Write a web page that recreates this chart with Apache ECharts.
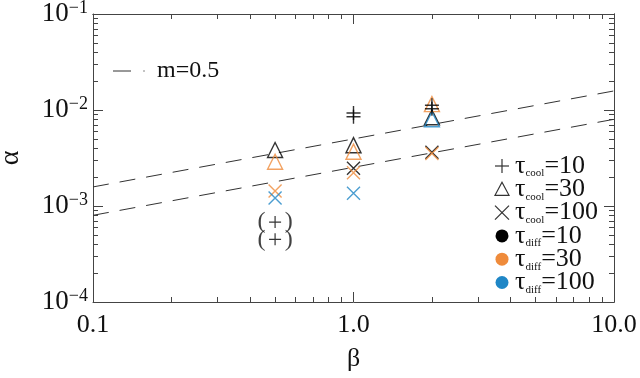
<!DOCTYPE html>
<html>
<head>
<meta charset="utf-8">
<script src="https://cdn.jsdelivr.net/npm/echarts@6/dist/echarts.min.js"></script>
<style>
html,body{margin:0;padding:0;background:#fff;}
#chart{width:640px;height:378px;}
</style>
</head>
<body>
<div id="chart"></div>
<script>
// tick values
var betaTicks = [0.1, 1, 10];
var betaMinor = [0.2, 0.3, 0.4, 0.5, 0.6, 0.7, 0.8, 0.9, 2, 3, 4, 5, 6, 7, 8, 9];
var alphaTicks = [1e-4, 1e-3, 1e-2, 1e-1];
var alphaMinor = [2e-4, 3e-4, 4e-4, 5e-4, 6e-4, 7e-4, 8e-4, 9e-4,
                  2e-3, 3e-3, 4e-3, 5e-3, 6e-3, 7e-3, 8e-3, 9e-3,
                  2e-2, 3e-2, 4e-2, 5e-2, 6e-2, 7e-2, 8e-2, 9e-2];

// points [beta, alpha]; shape = tau_cool, colour = tau_diff
var plusBlack = [[1, 9.3e-3], [1, 8.5e-3], [2, 1.12e-2], [2, 1.03e-2]];
var plusBlackParen = [[0.5, 6.8e-4], [0.5, 4.5e-4]];
var triBlack = [[0.5, 3.83e-3], [1, 4.3e-3], [2, 8.4e-3]];
var triOrange = [[0.5, 2.89e-3], [1, 3.68e-3], [2, 1.15e-2]];
var triBlue = [[2, 8.0e-3]];
var crossBlack = [[1, 2.47e-3], [2, 3.62e-3]];
var crossOrange = [[0.5, 1.43e-3], [1, 2.22e-3], [2, 3.52e-3]];
var crossBlue = [[0.5, 1.21e-3], [1, 1.36e-3]];

// m=0.5 reference lines
var fitUpper = [[0.1, 1.58e-3], [10, 1.58e-2]];
var fitLower = [[0.1, 8.0e-4], [10, 8.0e-3]];

var legendLabels = [['+', 'cool', '10'], ['tri', 'cool', '30'], ['x', 'cool', '100'],
                    ['#000', 'diff', '10'], ['#ef8b3b', 'diff', '30'], ['#1f86c6', 'diff', '100']];

var black = '#000';
var orange = '#ef8b3b';
var blue = '#1f86c6';
var serif = '"Liberation Serif"';
var axisCol = '#444';
var plusPath = 'path://M5,0L5,10M0,5L10,5';
var crossPath = 'path://M0,0L10,10M10,0L0,10';

function markSeries(data, symbol, color, size) {
    return {
        type: 'scatter',
        data: data,
        symbol: symbol,
        symbolSize: size || 14,
        itemStyle: {color: 'transparent', borderColor: color, borderWidth: 1.4},
        z: 5
    };
}

function xAx(pos, ticks, len, labels) {
    return {
        type: 'log', logBase: 10, min: 0.1, max: 10, position: pos,
        axisLine: {show: !!labels || pos === 'top', lineStyle: {color: axisCol, width: 1}},
        axisTick: {show: true, inside: true, length: len, customValues: ticks, lineStyle: {color: axisCol}},
        axisLabel: labels ? {
            customValues: betaTicks, color: '#111', fontFamily: serif, fontSize: 26, margin: 10,
            alignMinLabel: 'center', alignMaxLabel: 'center', hideOverlap: false,
            formatter: function (v) { return v.toFixed(1); }
        } : {show: false},
        splitLine: {show: false},
        name: labels ? 'β' : '',
        nameLocation: 'middle', nameGap: 44,
        nameTextStyle: {fontFamily: serif, fontSize: 26, color: '#111'}
    };
}

function yAx(pos, ticks, len, labels) {
    return {
        type: 'log', logBase: 10, min: 1e-4, max: 1e-1, position: pos,
        axisLine: {show: !!labels || pos === 'right', lineStyle: {color: axisCol, width: 1}},
        axisTick: {show: true, inside: true, length: len, customValues: ticks, lineStyle: {color: axisCol}},
        axisLabel: labels ? {
            customValues: alphaTicks, margin: 5, hideOverlap: false,
            formatter: function (v) { return '{b|10}{s|\u2212' + Math.round(-Math.log10(v)) + '}'; },
            rich: {
                b: {fontFamily: serif, fontSize: 27, color: '#111', lineHeight: 22},
                s: {fontFamily: serif, fontSize: 18, color: '#111', verticalAlign: 'top', padding: [0, 0, 12, 0]}
            }
        } : {show: false},
        splitLine: {show: false},
        name: labels ? 'α' : '',
        nameLocation: 'middle', nameGap: 68, nameRotate: 90,
        nameTextStyle: {fontFamily: serif, fontSize: 28, color: '#111'}
    };
}

var graphics = [
    {type: 'line', shape: {x1: 113, y1: 71, x2: 131, y2: 71}, style: {stroke: '#333', lineWidth: 1}},
    {type: 'line', shape: {x1: 143, y1: 71, x2: 145, y2: 71}, style: {stroke: '#888', lineWidth: 1}},
    {type: 'text', x: 157, y: 71, style: {text: 'm=0.5', font: '24px ' + serif, fill: '#111', verticalAlign: 'middle'}}
];
legendLabels.forEach(function (row, i) {
    var cy = 166 + i * 23.3, cx = 502;
    var k = row[0];
    if (k === '+') {
        graphics.push({type: 'line', shape: {x1: cx - 7, y1: cy, x2: cx + 7, y2: cy}, style: {stroke: '#333', lineWidth: 1.2}});
        graphics.push({type: 'line', shape: {x1: cx, y1: cy - 7, x2: cx, y2: cy + 7}, style: {stroke: '#333', lineWidth: 1.2}});
    } else if (k === 'tri') {
        graphics.push({type: 'polygon', shape: {points: [[cx, cy - 7], [cx + 7, cy + 6], [cx - 7, cy + 6]]},
            style: {fill: 'none', stroke: '#333', lineWidth: 1.2}});
    } else if (k === 'x') {
        graphics.push({type: 'line', shape: {x1: cx - 7, y1: cy - 7, x2: cx + 7, y2: cy + 7}, style: {stroke: '#333', lineWidth: 1.2}});
        graphics.push({type: 'line', shape: {x1: cx + 7, y1: cy - 7, x2: cx - 7, y2: cy + 7}, style: {stroke: '#333', lineWidth: 1.2}});
    } else {
        graphics.push({type: 'circle', shape: {cx: cx, cy: cy, r: 6.5}, style: {fill: k}});
    }
    graphics.push({
        type: 'text', x: 515, y: cy,
        style: {
            text: '{t|τ}{s|' + row[1] + '}{t|=' + row[2] + '}',
            verticalAlign: 'middle',
            rich: {
                t: {fontFamily: serif, fontSize: 26, fill: '#111'},
                s: {fontFamily: serif, fontSize: 11, fill: '#111', verticalAlign: 'bottom'}
            }
        }
    });
});

var chart = echarts.init(document.getElementById('chart'));
chart.setOption({
    backgroundColor: '#fff',
    animation: false,
    grid: {left: 93, right: 26, top: 14, bottom: 76, containLabel: false, outerBoundsMode: 'none'},
    xAxis: [
        xAx('bottom', betaTicks, 10, true),
        xAx('bottom', betaMinor, 5, false),
        xAx('top', betaTicks, 10, false),
        xAx('top', betaMinor, 5, false)
    ],
    yAxis: [
        yAx('left', alphaTicks, 10, true),
        yAx('left', alphaMinor, 5, false),
        yAx('right', alphaTicks, 10, false),
        yAx('right', alphaMinor, 5, false)
    ],
    graphic: graphics,
    series: [
        {type: 'line', data: fitUpper, symbol: 'none', lineStyle: {color: '#333', width: 1, type: [16, 11]}},
        {type: 'line', data: fitLower, symbol: 'none', lineStyle: {color: '#333', width: 1, type: [16, 11]}},
        markSeries(triBlack, 'triangle', black, 15),
        markSeries(triOrange, 'triangle', orange, 15),
        markSeries(triBlue, 'triangle', blue, 15),
        markSeries(crossBlack, crossPath, black, 13),
        markSeries(crossOrange, crossPath, orange, 13),
        markSeries(crossBlue, crossPath, blue, 13),
        markSeries(plusBlack, plusPath, black, 14),
        {
            type: 'scatter', data: plusBlackParen, symbol: plusPath, symbolSize: 12,
            itemStyle: {color: 'transparent', borderColor: black, borderWidth: 1.2},
            label: {show: true, position: 'inside', formatter: '(\u2009\u2009\u2009\u2009)', fontFamily: serif, fontSize: 24, color: '#111'},
            z: 5
        }
    ]
});
</script>
</body>
</html>
